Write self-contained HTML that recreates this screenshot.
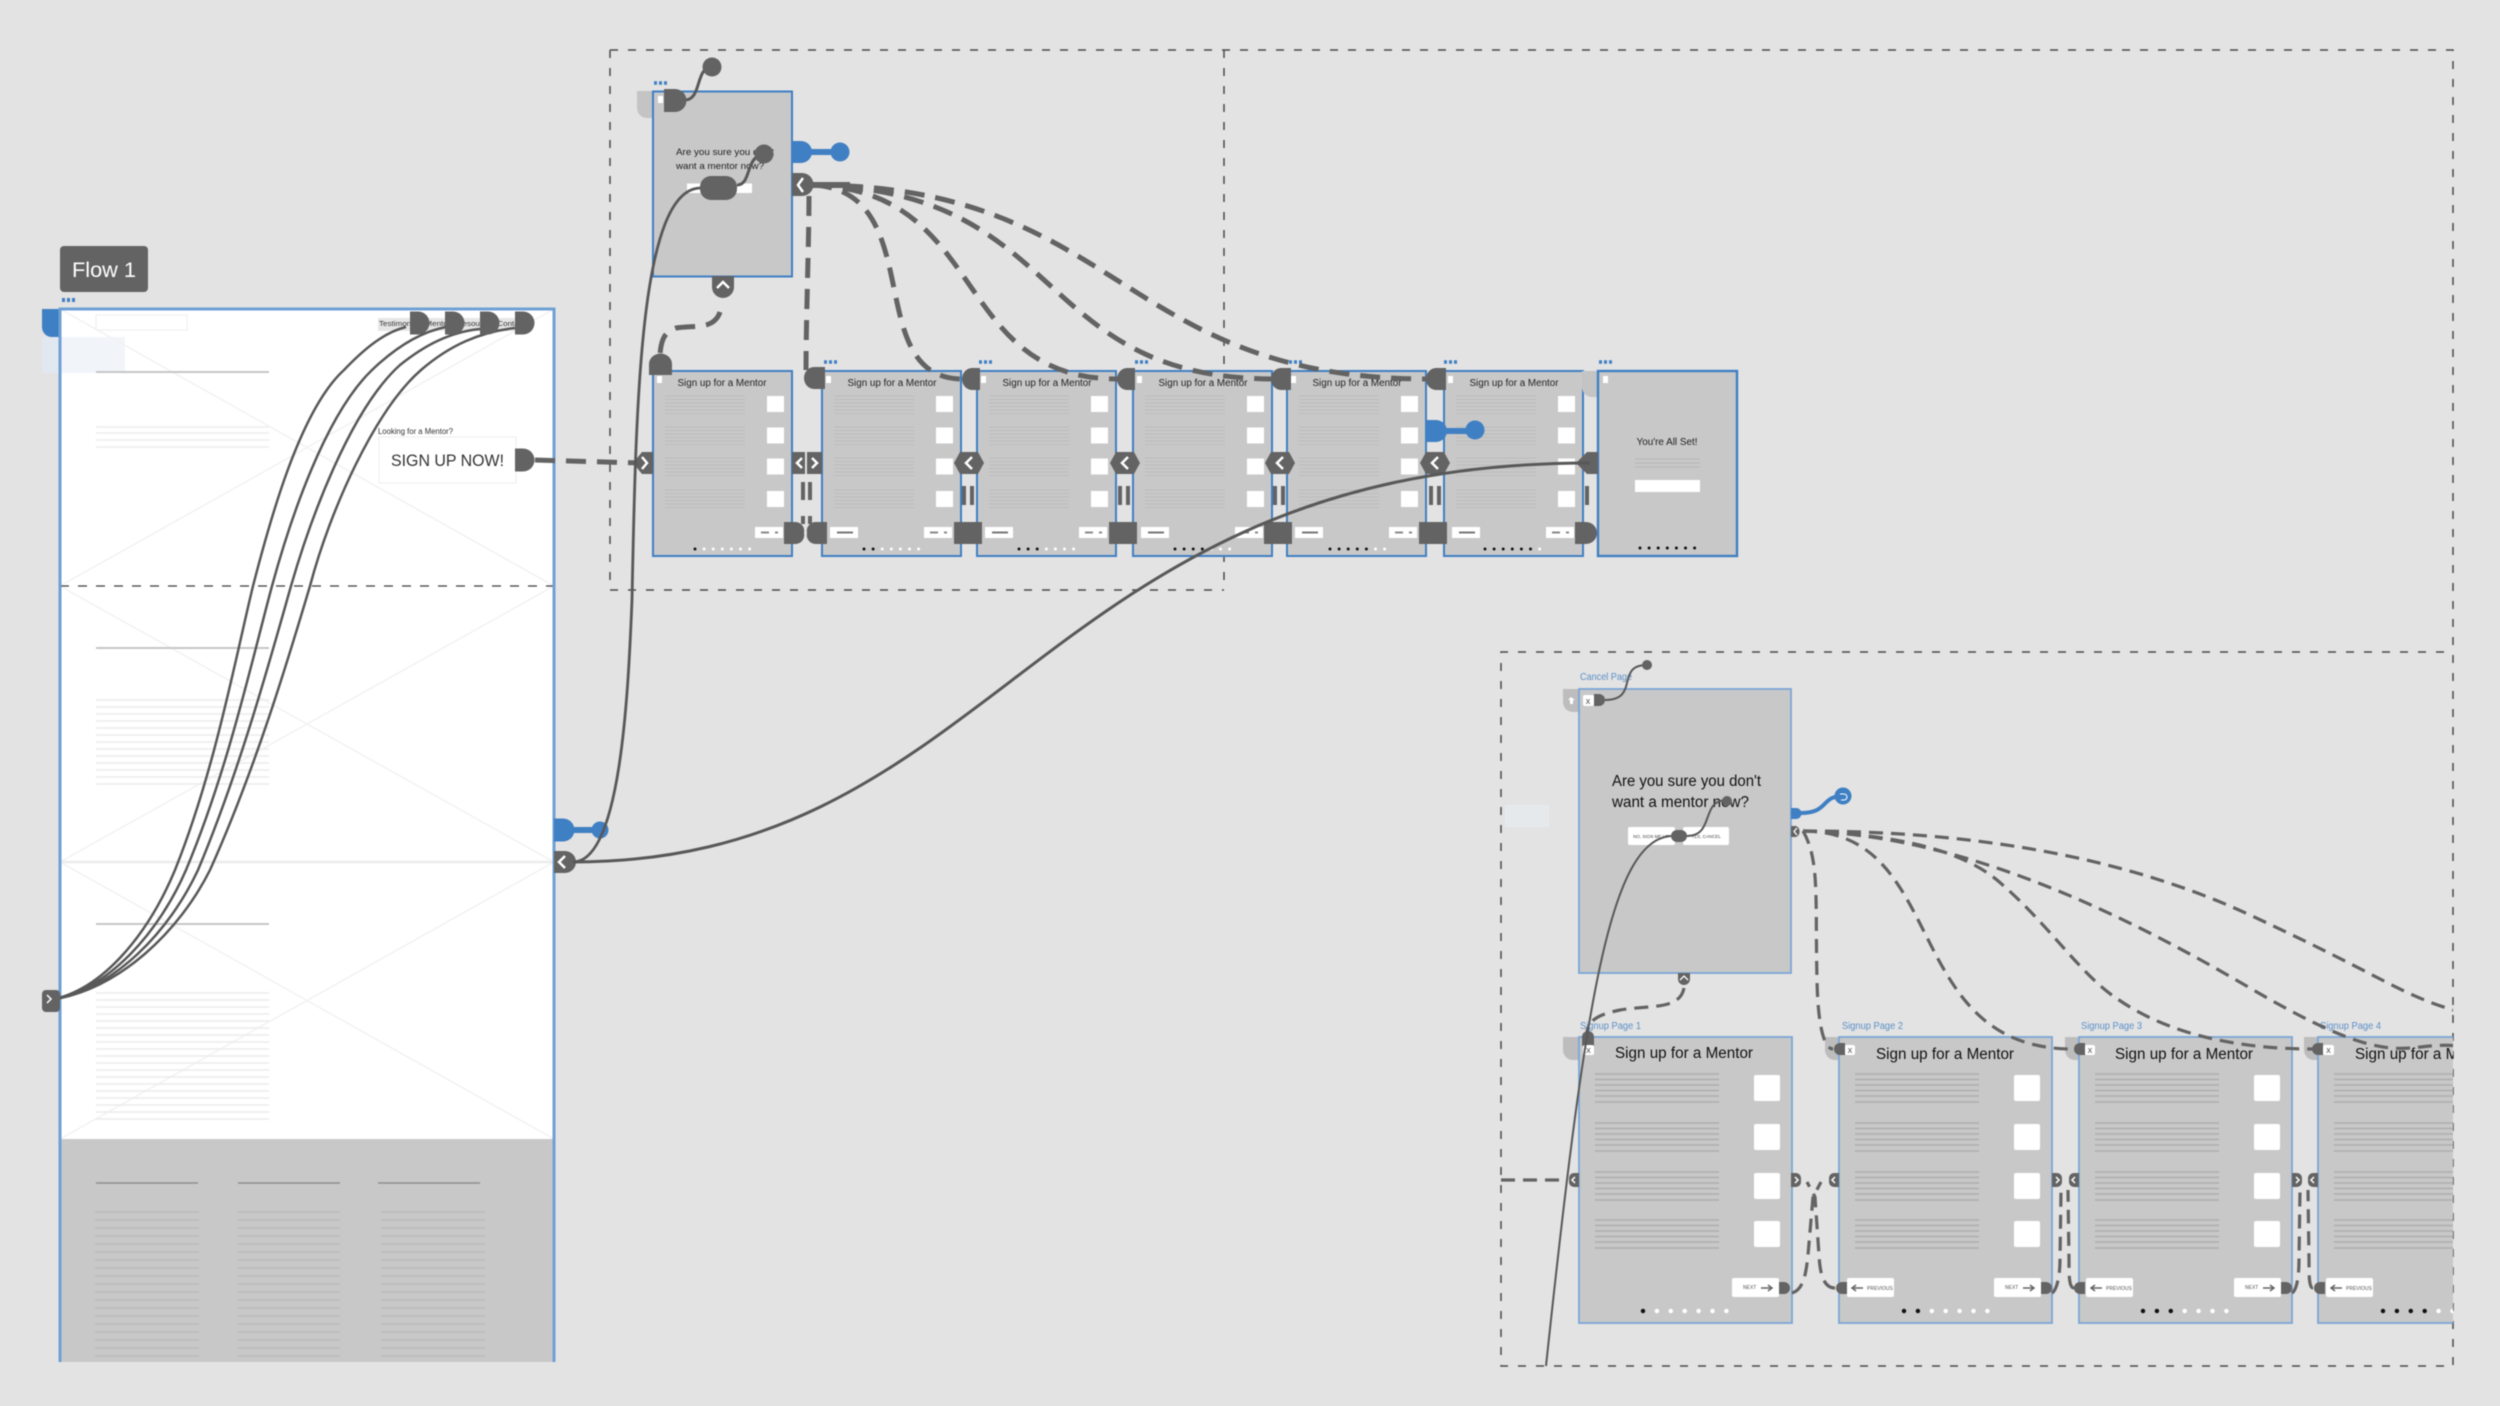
<!DOCTYPE html>
<html><head><meta charset="utf-8"><title>Flow diagram</title>
<style>html,body{margin:0;padding:0;background:#e3e3e3}svg{display:block;filter:blur(.45px)}text{font-family:"Liberation Sans",sans-serif}</style>
</head><body>
<svg xmlns="http://www.w3.org/2000/svg" width="2500" height="1406" viewBox="0 0 2500 1406">
<defs>
<clipPath id="c2"><rect x="1400" y="640" width="1053" height="730"/></clipPath>
<path id="sl" d="M0 0h80M0 3.500h80M0 7h80M0 10.500h80M0 14h80M0 17.500h80" stroke="#bcbcbc" stroke-width="1" fill="none"/>
<g id="small">
<rect x="0" y="0" width="139" height="185" fill="#c8c8c8" stroke="#3f7fc4" stroke-width="2"/>
<use href="#sl" x="12" y="396" transform="translate(0,-371)"/>
<use href="#sl" x="12" y="427" transform="translate(0,-371)"/>
<use href="#sl" x="12" y="458" transform="translate(0,-371)"/>
<use href="#sl" x="12" y="490" transform="translate(0,-371)"/>
<g fill="#fff"><rect x="114" y="25" width="17" height="16"/><rect x="114" y="56.500" width="17" height="16"/><rect x="114" y="87.500" width="17" height="16"/><rect x="114" y="120" width="17" height="16"/>
<rect x="102" y="156" width="28" height="11"/></g>
<path d="M108 161.500h8M122 161.500h3" stroke="#888" stroke-width="2"/>
<rect x="4" y="5" width="5" height="7" fill="#fff"/>
</g>
<g id="lbtn"><rect x="8" y="156" width="28" height="11" fill="#fff"/><path d="M15 161.500h16" stroke="#777" stroke-width="2"/></g>
<path id="bl" d="M0 0h124M0 5.500h124M0 11h124M0 16.500h124M0 22h124M0 28h124" stroke="#adadad" stroke-width="1.400" fill="none"/>
<g id="big">
<rect x="0" y="0" width="213" height="286" fill="#c8c8c8" stroke="#7ba6d6" stroke-width="1.800"/>
<use href="#bl" x="16" y="37"/><use href="#bl" x="16" y="86"/><use href="#bl" x="16" y="135"/><use href="#bl" x="16" y="183"/>
<g fill="#fff"><rect x="175" y="38" width="26" height="26" rx="2"/><rect x="175" y="87" width="26" height="26" rx="2"/><rect x="175" y="136" width="26" height="26" rx="2"/><rect x="175" y="184" width="26" height="26" rx="2"/></g>
</g>
<path id="dr" d="M0 -11.500H8A11.500 11.500 0 0 1 8 11.500H0Z" fill="#636363"/>
<path id="dl" d="M0 -11.500H-8A11.500 11.500 0 0 0 -8 11.500H0Z" fill="#636363"/>
<path id="drb" d="M0 -6H5A6 6 0 0 1 5 6H0Z" fill="#636363"/>
<path id="dlb" d="M0 -6H-5A6 6 0 0 0 -5 6H0Z" fill="#636363"/>
<g id="hex"><polygon points="-15,0 -9,-11 9,-11 15,0 9,11 -9,11" fill="#636363"/><path d="M3,-6 L-3,0 L3,6" fill="none" stroke="#fff" stroke-width="2.500"/></g>
<g id="chl"><path d="M0 -7H-5A5 5 0 0 0 -10 -2V2A5 5 0 0 0 -5 7H0Z" fill="#636363" transform="translate(0,0)"/><path d="M-4,-3 L-7,0 L-4,3" fill="none" stroke="#fff" stroke-width="1.500"/></g>
<g id="chr"><path d="M0 -7H5A5 5 0 0 1 10 -2V2A5 5 0 0 1 5 7H0Z" fill="#636363"/><path d="M4,-3 L7,0 L4,3" fill="none" stroke="#fff" stroke-width="1.500"/></g>
<rect id="sq" x="-14" y="-11" width="28" height="22" fill="#636363"/>
</defs>

<rect width="2500" height="1406" fill="#e3e3e3"/>
<rect x="1505" y="805" width="44" height="22" fill="#e6e9ec"/>

<!-- group dashed boundaries -->
<g fill="none" stroke="#4a4a4a" stroke-width="1.500" stroke-dasharray="8 10">
<path d="M610 50H2453V1366H1501V652H2453"/>
<path d="M610 50V590H1224"/>
<path d="M1224 50V590"/>
</g>

<!-- Flow label -->
<rect x="60" y="246" width="88" height="46" rx="4" fill="#636363"/>
<text x="72" y="277" font-size="21" fill="#fff" textLength="64" lengthAdjust="spacingAndGlyphs">Flow 1</text>
<path d="M62 300h14" stroke="#3f7fc4" stroke-width="4" stroke-dasharray="3 2"/>

<!-- main page -->
<path d="M42 309H60V337H52A10 10 0 0 1 42 327Z" fill="#3f7fc4"/>
<rect x="42" y="337" width="18" height="36" fill="#e2e8f0"/>
<rect x="60" y="309" width="494" height="1053" fill="#fff"/>
<rect x="60" y="337" width="65" height="36" fill="#f1f5fa"/>
<rect x="60" y="1139" width="494" height="223" fill="#c8c8c8"/>
<g stroke="#f2f2f2" stroke-width="1.500" fill="none">
<path d="M60 309L554 586M554 309L60 586M60 586L554 862M554 586L60 862M60 862L554 1139M554 862L60 1139"/>
<path d="M60 862H554" stroke="#ececec" stroke-width="2.500"/>
</g>
<path d="M60 586H554" stroke="#3c3c3c" stroke-width="1.200" stroke-dasharray="9 9"/>
<path d="M60 1362V309H554V1362" fill="none" stroke="#6ea0d6" stroke-width="3"/>
<rect x="96" y="315" width="91" height="15" fill="#fff" stroke="#eee"/>
<g stroke="#c6c6c6" stroke-width="2"><path d="M96 372H269M96 648H269M96 924H269"/></g>
<path d="M96 427H269M96 433H269M96 440H269M96 447H269" stroke="#eeeeee" stroke-width="1.500"/>
<path d="M96 700h173M96 707h173M96 714h173M96 721h173M96 728h173M96 735h173M96 742h173M96 749h173M96 756h173M96 763h173M96 770h173M96 777h173M96 784h173" stroke="#ececec" stroke-width="1.500"/>
<path d="M96 993h173M96 1000h173M96 1007h173M96 1014h173M96 1021h173M96 1028h173M96 1035h173M96 1042h173M96 1049h173M96 1056h173M96 1063h173M96 1070h173M96 1077h173M96 1084h173M96 1091h173M96 1098h173M96 1105h173M96 1112h173M96 1119h173" stroke="#ececec" stroke-width="1.500"/>
<path d="M96 1183h102M238 1183h102M378 1183h102" stroke="#8e8e8e" stroke-width="1.500"/>
<g stroke="#bbbbbb" stroke-width="1.600">
<path d="M95 1212h104M95 1220h104M95 1228h104M95 1236h104M95 1244h104M95 1252h104M95 1260h104M95 1268h104M95 1276h104M95 1284h104M95 1292h104M95 1300h104M95 1308h104M95 1316h104M95 1324h104M95 1332h104M95 1340h104M95 1348h104M95 1356h104"/>
<path d="M238 1212h102M238 1220h102M238 1228h102M238 1236h102M238 1244h102M238 1252h102M238 1260h102M238 1268h102M238 1276h102M238 1284h102M238 1292h102M238 1300h102M238 1308h102M238 1316h102M238 1324h102M238 1332h102M238 1340h102M238 1348h102M238 1356h102"/>
<path d="M381 1212h104M381 1220h104M381 1228h104M381 1236h104M381 1244h104M381 1252h104M381 1260h104M381 1268h104M381 1276h104M381 1284h104M381 1292h104M381 1300h104M381 1308h104M381 1316h104M381 1324h104M381 1332h104M381 1340h104M381 1348h104M381 1356h104"/>
</g>
<rect x="378" y="318" width="150" height="13" fill="#e6e6e6"/>
<text x="379" y="326" font-size="7" fill="#333" textLength="146" lengthAdjust="spacingAndGlyphs">Testimonials  Mentors  Resources  Contact</text>
<text x="378" y="434" font-size="8" fill="#333" textLength="75" lengthAdjust="spacingAndGlyphs">Looking for a Mentor?</text>
<rect x="379" y="437" width="137" height="46" fill="#fff" stroke="#eee"/>
<text x="391" y="466" font-size="17" fill="#333" textLength="113" lengthAdjust="spacingAndGlyphs">SIGN UP NOW!</text>

<!-- flow curves -->
<g fill="none" stroke="#585858" stroke-width="2.500">
<path d="M50 1000C105 990 150 930 175 870C215 770 235 660 253 586C270 520 300 410 344 370C365 348 385 332 406 327"/>
<path d="M50 1000C110 990 160 930 186 870C228 770 252 660 272 586C290 520 325 415 372 370C395 348 420 332 446 327"/>
<path d="M50 1000C115 990 170 930 198 870C240 770 270 660 291 586C310 520 350 410 400 365C425 345 450 332 480 329"/>
<path d="M50 1000C120 990 180 930 210 870C255 770 288 660 310 586C330 510 375 410 421 370C450 345 480 332 515 328"/>
</g>
<rect x="42" y="990" width="18" height="22" rx="4" fill="#636363"/><path d="M47 995l4 4-4 4" fill="none" stroke="#fff" stroke-width="1.500"/>
<use href="#dr" x="410" y="323"/><use href="#dr" x="445" y="323"/><use href="#dr" x="480" y="323"/><use href="#dr" x="515" y="323"/>
<use href="#dr" x="515" y="460"/>

<!-- blue + back handle on main -->
<path d="M554 818.500H563A11.500 11.500 0 0 1 563 841.500H554Z" fill="#3f7fc4"/>
<path d="M570 830H600" stroke="#3f7fc4" stroke-width="6"/><circle cx="600" cy="830" r="8.500" fill="#3f7fc4"/>
<path d="M554 851H565A11 11 0 0 1 565 873H554Z" fill="#636363"/>
<path d="M565 856L559 862L565 868" fill="none" stroke="#fff" stroke-width="2.500"/>

<!-- small modal -->
<path d="M637 91H653V118H647A10 10 0 0 1 637 108Z" fill="#c4c4c4"/>
<rect x="653" y="91.500" width="139" height="185" fill="#c8c8c8" stroke="#3f7fc4" stroke-width="2"/>
<text x="676" y="155" font-size="9.500" fill="#222" textLength="98" lengthAdjust="spacingAndGlyphs">Are you sure you don't</text>
<text x="676" y="169" font-size="9.500" fill="#222" textLength="88" lengthAdjust="spacingAndGlyphs">want a mentor now?</text>
<rect x="687" y="183.500" width="65" height="9.500" fill="#fff"/>
<rect x="658" y="96" width="5" height="7" fill="#fff"/>
<path d="M654 83h15" stroke="#3f7fc4" stroke-width="3.500" stroke-dasharray="3 2"/>

<!-- small pages -->
<use href="#small" x="653" y="371"/>
<use href="#small" x="822" y="371"/><use href="#small" x="977" y="371"/><use href="#small" x="1133" y="371"/><use href="#small" x="1287" y="371"/><use href="#small" x="1444" y="371"/>
<use href="#lbtn" x="822" y="371"/><use href="#lbtn" x="977" y="371"/><use href="#lbtn" x="1133" y="371"/><use href="#lbtn" x="1287" y="371"/><use href="#lbtn" x="1444" y="371"/>
<g font-size="10" fill="#222" text-anchor="middle">
<text x="722" y="386" textLength="89" lengthAdjust="spacingAndGlyphs">Sign up for a Mentor</text>
<text x="892" y="386" textLength="89" lengthAdjust="spacingAndGlyphs">Sign up for a Mentor</text>
<text x="1047" y="386" textLength="89" lengthAdjust="spacingAndGlyphs">Sign up for a Mentor</text>
<text x="1203" y="386" textLength="89" lengthAdjust="spacingAndGlyphs">Sign up for a Mentor</text>
<text x="1357" y="386" textLength="89" lengthAdjust="spacingAndGlyphs">Sign up for a Mentor</text>
<text x="1514" y="386" textLength="89" lengthAdjust="spacingAndGlyphs">Sign up for a Mentor</text>
</g>
<!-- last page -->
<path d="M1582 371H1598V397H1592A10 10 0 0 1 1582 387Z" fill="#c4c4c4"/>
<rect x="1598" y="371" width="139" height="185" fill="#c8c8c8" stroke="#3f7fc4" stroke-width="2.400"/>
<rect x="1603" y="376" width="5" height="7" fill="#fff"/>
<text x="1667" y="445" font-size="10" fill="#222" text-anchor="middle" textLength="61" lengthAdjust="spacingAndGlyphs">You're All Set!</text>
<path d="M1635 459h65M1635 463h65M1635 467h65" stroke="#b6b6b6"/>
<rect x="1635" y="480" width="65" height="12" fill="#fff"/>
<!-- dots -->
<g fill="none" stroke-linecap="round" stroke-width="3" stroke-dasharray="0 9.100">
<g stroke="#fff">
<path d="M695 549h54.700M864 549h54.700M1019 549h54.700M1175 549h54.700M1330 549h54.700M1485 549h54.700"/>
</g>
<g stroke="#111">
<path d="M695 549h.1M864 549h9.200M1019 549h18.300M1175 549h27.400M1330 549h36.500M1485 549h45.600M1640 548h54.700"/>
</g>
</g>
<path d="M654 362h15M824 362h14M979 362h14M1135 362h14M1289 362h14M1444 362h14M1599 362h14" stroke="#3f7fc4" stroke-width="3.500" stroke-dasharray="3 2"/>

<!-- small modal dashed fan -->
<g fill="none" stroke="#636363" stroke-width="5" stroke-dasharray="20 11">
<path d="M809 196C809 240 806 320 806 370"/>
<path d="M812 185C930 190 860 378 962 379"/>
<path d="M812 185C990 190 950 379 1118 379"/>
<path d="M812 185C1070 190 1030 379 1275 379"/>
<path d="M812 185C1120 185 1120 379 1428 379"/>
<path d="M720 312C714 330 695 325 676 328C664 332 661 340 660 355"/>
<path d="M535 460L640 463"/>
</g>
<!-- vertical mini dashes between pages -->
<g stroke="#636363" stroke-width="4" fill="none">
<path d="M803 482v18M810 482v18M803 516v8M810 516v8M964 486v19M972 486v19M1120 486v19M1128 486v19M1275 486v19M1283 486v19M1431 486v19M1439 486v19M1587 486v19"/>
</g>
<!-- first-row handles -->
<path d="M792 452H805V474H792Z" fill="#636363"/><path d="M807 452H822V474H807Z" fill="#636363"/>
<path d="M802 458L797 463L802 468M812 458L817 463L812 468" fill="none" stroke="#fff" stroke-width="2.500"/>
<path d="M653 452H642L633 463L642 474H653Z" fill="#636363"/><path d="M642 457L647 463L642 469" fill="none" stroke="#fff" stroke-width="2.500"/>
<use href="#hex" x="969" y="463"/><use href="#hex" x="1125" y="463"/><use href="#hex" x="1280" y="463"/><use href="#hex" x="1435" y="463"/>
<path d="M1598 452H1587L1576 463L1587 474H1598Z" fill="#636363"/>
<path d="M784 522H796A9 9 0 0 1 804 533A9 9 0 0 1 796 544H784Z" fill="#636363"/>
<path d="M827 522H815A9 9 0 0 0 807 533A9 9 0 0 0 815 544H827Z" fill="#636363"/>
<use href="#sq" x="968" y="533"/><use href="#sq" x="1123" y="533"/><use href="#sq" x="1278" y="533"/><use href="#sq" x="1433" y="533"/>
<path d="M1575 522H1586A11 11 0 0 1 1586 544H1575Z" fill="#636363"/>
<!-- top handles row 1 -->
<path d="M649 375V364A11 10 0 0 1 672 364V375Z" fill="#636363"/>
<g fill="#636363">
<path d="M825 367H814A10 11 0 0 0 814 389H825Z"/>
<path d="M980 368H972A10 11 0 0 0 972 390H980Z"/>
<path d="M1135 368H1127A10 11 0 0 0 1127 390H1135Z"/>
<path d="M1291 368H1281A10 11 0 0 0 1281 390H1291Z"/>
<path d="M1446 368H1436A10 11 0 0 0 1436 390H1446Z"/>
</g>
<!-- modal chevron tab -->
<path d="M712 276H734V287A11 11 0 0 1 712 287Z" fill="#636363"/>
<path d="M717 288L723 282L729 288" fill="none" stroke="#fff" stroke-width="2.500"/>
<!-- blue on modal and row -->
<path d="M792 141H801A11 11 0 0 1 801 163H792Z" fill="#3f7fc4"/>
<path d="M805 152H840" stroke="#3f7fc4" stroke-width="6"/><circle cx="840" cy="152" r="9.500" fill="#3f7fc4"/>
<path d="M792 173H802A11 11 0 0 1 802 196H792Z" fill="#636363"/><path d="M803 178L798 185L803 192" fill="none" stroke="#fff" stroke-width="2.500"/>
<path d="M810 185L850 185" stroke="#636363" stroke-width="6"/>
<path d="M1426 420H1436A11 11 0 0 1 1436 442H1426Z" fill="#3f7fc4"/>
<path d="M1440 431H1475" stroke="#3f7fc4" stroke-width="6"/><circle cx="1475" cy="430" r="9.500" fill="#3f7fc4"/>
<!-- modal top handle + solid curves -->
<g fill="none" stroke="#585858">
<path d="M685 100C702 100 695 67 712 67" stroke-width="3"/>
<path d="M737 185C752 185 745 155 764 155" stroke-width="3"/>
<path d="M573 862C620 862 628 700 632 600C636 400 640 190 700 188" stroke-width="2.800"/>
<path d="M573 862C1000 862 1040 463 1590 463" stroke-width="3"/>
</g>
<path d="M664 89H675A11 11 0 0 1 675 112H664Z" fill="#636363"/>
<circle cx="712" cy="67" r="9.500" fill="#636363"/><circle cx="764" cy="154" r="9.500" fill="#636363"/>
<rect x="700" y="176" width="37" height="24" rx="11" fill="#636363"/>

<!-- second group -->
<g clip-path="url(#c2)">
<path d="M1563 689H1579V712H1573A10 10 0 0 1 1563 702Z" fill="#bdbdbd"/>
<rect x="1579" y="689" width="212" height="284" fill="#c8c8c8" stroke="#7ba6d6" stroke-width="1.800"/>
<path d="M1571 697l-3 3h2v4h3v-4h2z" fill="#fff"/>
<rect x="1583" y="695" width="11" height="11" rx="2" fill="#fff"/><text x="1588" y="704" font-size="7" fill="#333" text-anchor="middle">X</text>
<text x="1612" y="786" font-size="15.500" fill="#111" textLength="149" lengthAdjust="spacingAndGlyphs">Are you sure you don't</text>
<text x="1612" y="807" font-size="15.500" fill="#111" textLength="137" lengthAdjust="spacingAndGlyphs">want a mentor now?</text>
<rect x="1628" y="827" width="47" height="18" rx="2" fill="#fff"/><text x="1651" y="838" font-size="4.500" fill="#444" text-anchor="middle">NO, SIGN ME UP</text>
<rect x="1683" y="827" width="46" height="18" rx="2" fill="#fff"/><text x="1706" y="838" font-size="4.500" fill="#444" text-anchor="middle">YES, CANCEL</text>
<text x="1580" y="680" font-size="10.500" fill="#5b8fc7" textLength="52" lengthAdjust="spacingAndGlyphs">Cancel Page</text>
<text x="1580" y="1029" font-size="10.500" fill="#5b8fc7" textLength="61" lengthAdjust="spacingAndGlyphs">Signup Page 1</text>
<text x="1842" y="1029" font-size="10.500" fill="#5b8fc7" textLength="61" lengthAdjust="spacingAndGlyphs">Signup Page 2</text>
<text x="2081" y="1029" font-size="10.500" fill="#5b8fc7" textLength="61" lengthAdjust="spacingAndGlyphs">Signup Page 3</text>
<text x="2320" y="1029" font-size="10.500" fill="#5b8fc7" textLength="61" lengthAdjust="spacingAndGlyphs">Signup Page 4</text>
<!-- tabs -->
<path d="M1563 1037H1579V1060H1573A10 10 0 0 1 1563 1050Z" fill="#bdbdbd"/>
<path d="M1825 1037H1839V1060H1835A10 10 0 0 1 1825 1050Z" fill="#bdbdbd"/>
<path d="M2065 1037H2079V1060H2075A10 10 0 0 1 2065 1050Z" fill="#bdbdbd"/>
<path d="M2304 1037H2318V1060H2314A10 10 0 0 1 2304 1050Z" fill="#bdbdbd"/>
<use href="#big" x="1579" y="1037"/><use href="#big" x="1839" y="1037"/><use href="#big" x="2079" y="1037"/><use href="#big" x="2318" y="1037"/>
<g font-size="15.500" fill="#111" text-anchor="middle">
<text x="1684" y="1058" textLength="138" lengthAdjust="spacingAndGlyphs">Sign up for a Mentor</text>
<text x="1945" y="1059" textLength="138" lengthAdjust="spacingAndGlyphs">Sign up for a Mentor</text>
<text x="2184" y="1059" textLength="138" lengthAdjust="spacingAndGlyphs">Sign up for a Mentor</text>
<text x="2424" y="1059" textLength="138" lengthAdjust="spacingAndGlyphs">Sign up for a Mentor</text>
</g>
<!-- buttons -->
<g fill="#fff">
<rect x="1732" y="1278" width="47" height="19" rx="2"/><rect x="1994" y="1278" width="47" height="19" rx="2"/><rect x="2234" y="1278" width="47" height="19" rx="2"/>
<rect x="1847" y="1278" width="47" height="19" rx="2"/><rect x="2086" y="1278" width="47" height="19" rx="2"/><rect x="2326" y="1278" width="47" height="19" rx="2"/>
</g>
<g font-size="5" fill="#555">
<text x="1743" y="1289">NEXT</text><text x="2005" y="1289">NEXT</text><text x="2245" y="1289">NEXT</text>
<text x="1867" y="1290">PREVIOUS</text><text x="2106" y="1290">PREVIOUS</text><text x="2346" y="1290">PREVIOUS</text>
</g>
<g fill="none" stroke="#666" stroke-width="1.500">
<path d="M1761 1288h11m-4 -3l4 3l-4 3M2023 1288h11m-4 -3l4 3l-4 3M2263 1288h11m-4 -3l4 3l-4 3"/>
<path d="M1863 1288h-11m4 -3l-4 3l4 3M2102 1288h-11m4 -3l-4 3l4 3M2342 1288h-11m4 -3l-4 3l4 3"/>
</g>
<!-- dots -->
<g fill="none" stroke-linecap="round" stroke-width="4.500" stroke-dasharray="0 13.900">
<path stroke="#fff" d="M1643 1311h83.500M1904 1311h83.500M2143 1311h83.500M2383 1311h83.500"/>
<path stroke="#111" d="M1643 1311h.1M1904 1311h13.950M2143 1311h27.900M2383 1311h41.800"/>
</g>
<!-- dashed fan -->
<g fill="none" stroke="#636363" stroke-width="3.200" stroke-dasharray="14 8">
<path d="M1803 831C1820 860 1815 900 1817 980C1818 1030 1825 1049 1833 1049"/>
<path d="M1803 831C1950 831 1900 1049 2073 1049"/>
<path d="M1803 831C1900 835 1960 850 1997 880C2050 925 2080 975 2119 1000C2170 1035 2240 1049 2312 1049"/>
<path d="M1803 831C1950 835 2100 900 2250 988S2400 1040 2460 1046"/>
<path d="M1803 831C1950 831 2110 850 2250 915S2400 995 2460 1012"/>
<path d="M1684 988C1680 1010 1650 1005 1620 1010C1600 1014 1588 1020 1587 1032"/>
<path d="M1501 1180H1567"/>
<path d="M1792 1293C1803 1290 1806 1275 1808 1255L1813 1197L1821 1182M1835 1288C1824 1288 1820 1275 1819 1255L1815 1197L1807 1182"/>
<path d="M2052 1293C2057 1290 2060 1275 2060 1260L2061 1190M2074 1288C2069 1288 2069 1275 2069 1260L2068 1190"/>
<path d="M2292 1293C2297 1290 2299 1275 2299 1260L2300 1190M2313 1288C2309 1288 2309 1275 2309 1260L2308 1190"/>
</g>
<!-- handles -->
<use href="#chl" x="1579" y="1180"/><use href="#chr" x="1791" y="1180"/><use href="#chl" x="1839" y="1180"/><use href="#chr" x="2052" y="1180"/><use href="#chl" x="2079" y="1180"/><use href="#chr" x="2292" y="1180"/><use href="#chl" x="2318" y="1180"/>
<use href="#drb" x="1779" y="1288"/><use href="#dlb" x="1847" y="1288"/><use href="#drb" x="2041" y="1288"/><use href="#dlb" x="2085" y="1288"/><use href="#drb" x="2281" y="1288"/><use href="#dlb" x="2325" y="1288"/>
<use href="#dlb" x="1845" y="1049"/><use href="#dlb" x="2085" y="1049"/><use href="#dlb" x="2323" y="1049"/>
<path d="M1582 1046V1037A6 6 0 0 1 1594 1037V1046Z" fill="#636363"/>
<rect x="1583" y="1045" width="11" height="10" rx="2" fill="#fff"/><text x="1588.500" y="1053" font-size="7" fill="#333" text-anchor="middle">X</text>
<rect x="1845" y="1045" width="10" height="10" rx="2" fill="#fff"/><text x="1850" y="1053" font-size="7" fill="#333" text-anchor="middle">X</text>
<rect x="2085" y="1045" width="10" height="10" rx="2" fill="#fff"/><text x="2090" y="1053" font-size="7" fill="#333" text-anchor="middle">X</text>
<rect x="2323" y="1045" width="11" height="10" rx="2" fill="#fff"/><text x="2328.500" y="1053" font-size="7" fill="#333" text-anchor="middle">X</text>
<!-- modal 2 connectors -->
<g fill="none" stroke="#585858" stroke-width="2">
<path d="M1605 700C1640 700 1615 665 1647 665"/>
<path d="M1687 836C1715 836 1700 800 1727 800"/>
<path d="M1671 836C1610 840 1585 1000 1546 1366"/>
</g>
<use href="#drb" x="1594" y="700"/>
<circle cx="1647" cy="665" r="5" fill="#636363"/><circle cx="1727" cy="801" r="5" fill="#636363"/>
<rect x="1671" y="830" width="16" height="12" rx="6" fill="#636363"/>
<path d="M1791 808H1796A5.500 5.500 0 0 1 1796 819H1791Z" fill="#3f7fc4"/>
<path d="M1800 813C1830 813 1820 796 1843 796" fill="none" stroke="#3f7fc4" stroke-width="4"/>
<circle cx="1843" cy="796" r="8.500" fill="#3f7fc4"/><path d="M1840 794h4a3 3 0 0 1 0 6h-3" fill="none" stroke="#fff" stroke-width="1"/>
<path d="M1791 826H1796A6 6 0 0 1 1796 837H1791Z" fill="#636363"/><path d="M1797 828L1794 831.500L1797 835" fill="none" stroke="#fff" stroke-width="1.300"/>
<path d="M1678 973H1690V979A6 6 0 0 1 1678 979Z" fill="#636363"/><path d="M1680 980L1684 976L1688 980" fill="none" stroke="#fff" stroke-width="1.300"/>
</g>
</svg>
</body></html>
